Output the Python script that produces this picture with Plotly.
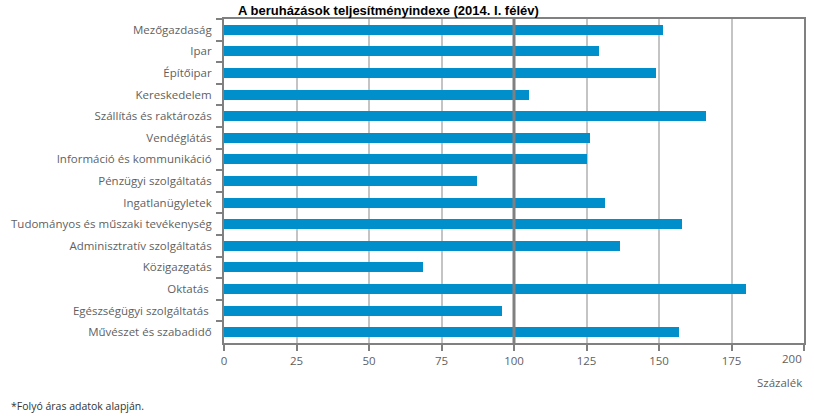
import plotly.graph_objects as go

categories = [
    "Mezőgazdaság", "Ipar", "Építőipar", "Kereskedelem", "Szállítás és raktározás",
    "Vendéglátás", "Információ és kommunikáció", "Pénzügyi szolgáltatás",
    "Ingatlanügyletek", "Tudományos és műszaki tevékenység", "Adminisztratív szolgáltatás",
    "Közigazgatás", "Oktatás ", "Egészségügyi szolgáltatás ", "Művészet és szabadidő",
]
values = [151.5, 129.2, 149.1, 105.2, 166.3, 126.1, 125.1, 87.3,
          131.3, 158.1, 136.4, 68.7, 180.1, 95.9, 157.0]
x_ticks = [0, 25, 50, 75, 100, 125, 150, 175, 200]

title = "A beruházások teljesítményindexe (2014. I. félév)"
x_title = "Százalék"
footnote = "*Folyó áras adatok alapján."

font_fam = "Open Sans, DejaVu Sans, sans-serif"
grey = "#5f5f5f"

W, H = 814, 416
L, R, T, B = 224, 8, 19, 73
pw = W - L - R
ph = H - T - B


def px_x(x):
    return (x - L) / pw


def px_y(y):
    return (H - y - B) / ph


fig = go.Figure(go.Bar(
    x=values, y=categories, orientation="h",
    marker=dict(color="#008fcb", line=dict(width=0)),
    width=0.46,
))

fig.add_shape(type="line", x0=100, x1=100, y0=0, y1=1, yref="paper",
              line=dict(color="#808080", width=3), layer="above")

fig.update_layout(
    width=W, height=H,
    margin=dict(l=L, r=R, t=T, b=B),
    plot_bgcolor="white", paper_bgcolor="white",
    showlegend=False,
    bargap=0,
    font=dict(family=font_fam, size=11.5, color=grey),
    xaxis=dict(
        range=[0, 200], tickvals=x_ticks,
        ticktext=[str(v) if v != x_ticks[-1] else "" for v in x_ticks],
        showgrid=True, gridcolor="#c4c4c4", gridwidth=1.5,
        showline=True, linecolor="#808080", linewidth=2, mirror=True,
        ticks="outside", ticklen=6, tickwidth=2, tickcolor="#808080",
        zeroline=False, tickfont=dict(size=11.5, color=grey),
    ),
    yaxis=dict(
        autorange="reversed", type="category",
        showline=True, linecolor="#808080", linewidth=2, mirror=True,
        ticks="outside", tickson="boundaries", ticklen=6, tickwidth=2,
        tickcolor="#808080", showgrid=False, ticklabelstandoff=8,
        tickfont=dict(size=11.5, color=grey),
    ),
    annotations=[
        dict(text="<b>" + title + "</b>", x=px_x(236), y=px_y(10), xref="paper", yref="paper",
             showarrow=False, xanchor="left", yanchor="middle",
             font=dict(family="Liberation Sans, Arial, sans-serif",
                       size=13, color="#000000")),
        dict(text=str(x_ticks[-1]), x=x_ticks[-1], y=px_y(358), xref="x", yref="paper",
             showarrow=False, xanchor="right", yanchor="middle",
             font=dict(size=11.5, color=grey)),
        dict(text=x_title, x=1, y=px_y(382), xref="paper", yref="paper",
             showarrow=False, xanchor="right", yanchor="middle",
             font=dict(size=11.5, color=grey)),
        dict(text=footnote, x=px_x(8), y=px_y(406), xref="paper", yref="paper",
             showarrow=False, xanchor="left", yanchor="middle",
             font=dict(size=10.5, color="#333333")),
    ],
)

fig.write_html("out.html")
